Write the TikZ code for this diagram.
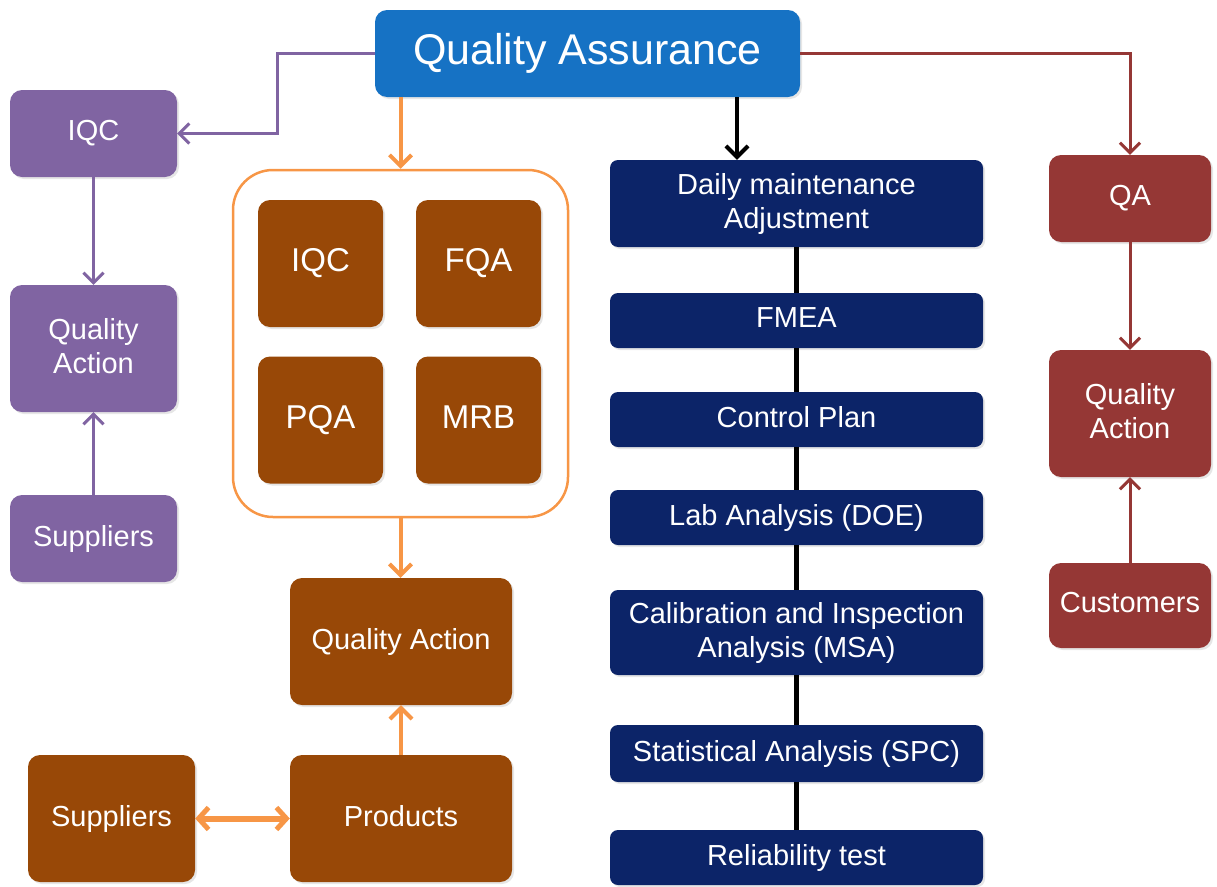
\documentclass[tikz,border=0pt]{standalone}
\usepackage{fontspec}
\setmainfont{Liberation Sans}
\usetikzlibrary{arrows.meta,shadows}
\definecolor{qablue}{RGB}{22,114,196}
\definecolor{ppurple}{RGB}{128,100,162}
\definecolor{bbrown}{RGB}{152,72,7}
\definecolor{oorange}{RGB}{247,150,70}
\definecolor{nnavy}{RGB}{12,36,104}
\definecolor{rred}{RGB}{149,55,53}
\tikzset{
  boxbase/.style={rounded corners=12pt, inner sep=2pt, align=center, text=white,
    font=\fontsize{29}{34}\selectfont,
    drop shadow={opacity=0.2, shadow xshift=2pt, shadow yshift=-2pt},
    execute at begin node={\vphantom{Qy}}},
  pbox/.style={boxbase, fill=ppurple},
  bbox/.style={boxbase, fill=bbrown},
  bigbbox/.style={boxbase, fill=bbrown, font=\fontsize{33}{38}\selectfont},
  nbox/.style={boxbase, fill=nnavy, rounded corners=8pt, minimum width=373pt},
  rbox/.style={boxbase, fill=rred, minimum width=162pt},
  parr/.style={draw=ppurple, line width=3pt, -{Straight Barb[length=10pt,width=20pt,line width=3pt]}},
  rarr/.style={draw=rred, line width=3pt, -{Straight Barb[length=10pt,width=20pt,line width=3pt]}},
  oarr/.style={draw=oorange, line width=4pt, -{Straight Barb[length=11pt,width=22pt,line width=4pt]}},
  karr/.style={draw=black, line width=4pt, -{Straight Barb[length=11pt,width=22pt,line width=4pt]}},
  kline/.style={draw=black, line width=5pt},
}
\begin{document}
\begin{tikzpicture}[x=1pt,y=-1pt]
\useasboundingbox (0,0) rectangle (1217,886);
% top
\node[boxbase, fill=qablue, minimum width=425pt, minimum height=87pt,
  font=\fontsize{43}{48}\selectfont] (qa) at (587.5,53.5) {Quality Assurance};
% purple column
\node[pbox, minimum width=167pt, minimum height=87pt] (piqc) at (93.5,133.5) {IQC};
\node[pbox, minimum width=167pt, minimum height=127pt] (pqact) at (93.5,348.5) {Quality\\Action};
\node[pbox, minimum width=167pt, minimum height=87pt] (psup) at (93.5,538.5) {Suppliers};
% brown column
\node[draw=oorange, line width=2.5pt, fill=white, rounded corners=40pt,
  minimum width=335pt, minimum height=347pt] (cont) at (400.5,343.5) {};
\node[bigbbox, minimum width=125pt, minimum height=127pt] (biqc) at (320.5,263.5) {IQC};
\node[bigbbox, minimum width=125pt, minimum height=127pt] (bfqa) at (478.5,263.5) {FQA};
\node[bigbbox, minimum width=125pt, minimum height=127pt] (bpqa) at (320.5,420) {PQA};
\node[bigbbox, minimum width=125pt, minimum height=127pt] (bmrb) at (478.5,420) {MRB};
\node[bbox, minimum width=222pt, minimum height=127pt] (bqact) at (401,641.5) {Quality Action};
\node[bbox, minimum width=222pt, minimum height=127pt] (bprod) at (401,818.5) {Products};
\node[bbox, minimum width=167pt, minimum height=127pt] (bsup) at (111.5,818.5) {Suppliers};
% navy column
\node[nbox, minimum height=87pt] (n1) at (796.5,203.5) {Daily maintenance\\Adjustment};
\node[nbox, minimum height=55pt] (n2) at (796.5,320.5) {FMEA};
\node[nbox, minimum height=55pt] (n3) at (796.5,419.5) {Control Plan};
\node[nbox, minimum height=55pt] (n4) at (796.5,517.5) {Lab Analysis (DOE)};
\node[nbox, minimum height=85pt] (n5) at (796.5,632.5) {Calibration and Inspection\\Analysis (MSA)};
\node[nbox, minimum height=57pt] (n6) at (796.5,753.5) {Statistical Analysis (SPC)};
\node[nbox, minimum height=55pt] (n7) at (796.5,857.5) {Reliability test};
% red column
\node[rbox, minimum height=87pt] (rqa) at (1130,198.5) {QA};
\node[rbox, minimum height=127pt] (rqact) at (1130,413.5) {Quality\\Action};
\node[rbox, minimum height=85pt] (rcus) at (1130,605.5) {Customers};
% connectors
\draw[parr] (qa.west) -- ++(-97,0) |- (piqc.east);
\draw[parr] (piqc.south) -- (pqact.north);
\draw[parr] (psup.north) -- (pqact.south);
\draw[rarr] (qa.east) -| (rqa.north);
\draw[rarr] (rqa.south) -- (rqact.north);
\draw[rarr] (rcus.north) -- (rqact.south);
\draw[oarr] (cont.north |- qa.south) -- (cont.north);
\draw[oarr] (cont.south) -- (cont.south |- bqact.north);
\draw[oarr] (bprod.north) -- (bqact.south);
\draw[draw=oorange, line width=6pt, {Straight Barb[length=10pt,width=22pt,line width=5pt]}-{Straight Barb[length=10pt,width=22pt,line width=5pt]}] (bsup.east) -- (bprod.west);
\coordinate (bk) at (737,97);
\draw[karr] (bk) -- (bk |- n1.north);
\draw[kline] (n1.south) -- (n2.north);
\draw[kline] (n2.south) -- (n3.north);
\draw[kline] (n3.south) -- (n4.north);
\draw[kline] (n4.south) -- (n5.north);
\draw[kline] (n5.south) -- (n6.north);
\draw[kline] (n6.south) -- (n7.north);
\end{tikzpicture}
\end{document}
